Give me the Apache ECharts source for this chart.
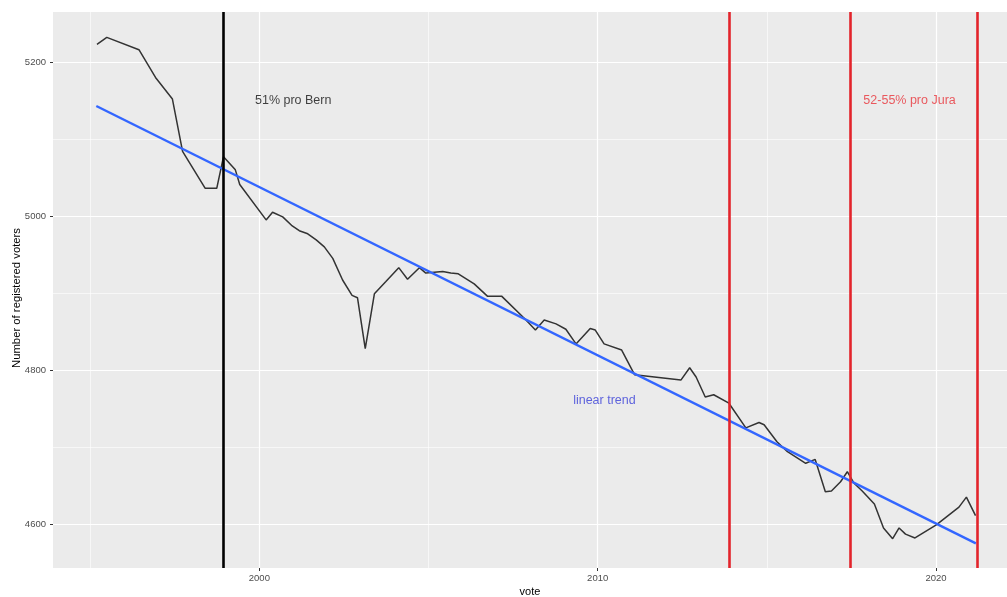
<!DOCTYPE html>
<html>
<head>
<meta charset="utf-8">
<script src="https://cdn.jsdelivr.net/npm/echarts@6/dist/echarts.min.js"></script>
<style>
  html, body { margin: 0; padding: 0; background: #ffffff; }
  #chart { width: 1007px; height: 597px; }
</style>
</head>
<body>
<div id="chart"></div>
<script>
// Registered voters at each vote date (decimal year)
const voteYears = [
  1995.20, 1995.49, 1996.44, 1996.93, 1997.43, 1997.73, 1998.40, 1998.74, 1998.94, 1999.29,
  1999.42, 2000.20, 2000.39, 2000.69, 2000.95, 2001.18, 2001.43, 2001.68, 2001.92, 2002.17,
  2002.46, 2002.74, 2002.90, 2003.13, 2003.40, 2003.74, 2004.12, 2004.38, 2004.73, 2004.92,
  2005.42, 2005.66, 2005.88, 2006.35, 2006.74, 2007.16, 2007.86, 2008.16, 2008.42, 2008.77,
  2009.06, 2009.36, 2009.78, 2009.93, 2010.19, 2010.71, 2011.09, 2012.46, 2012.72, 2012.91,
  2013.18, 2013.43, 2013.88, 2014.38, 2014.77, 2014.92, 2015.30, 2015.61, 2016.15, 2016.43,
  2016.73, 2016.91, 2017.18, 2017.38, 2017.58, 2017.82, 2018.18, 2018.45, 2018.72, 2018.91,
  2019.10, 2019.38, 2020.01, 2020.68, 2020.90, 2021.17
];
const registeredVoters = [
  5223, 5232, 5216, 5180, 5152, 5084, 5036, 5036, 5077, 5060,
  5041, 4995, 5005, 4999, 4988, 4981, 4977, 4969, 4960, 4945,
  4917, 4897, 4894, 4828, 4899, 4915, 4933, 4918, 4933, 4926,
  4928, 4926, 4925, 4912, 4896, 4896, 4866, 4852, 4865, 4860,
  4853, 4834, 4854, 4852, 4834, 4826, 4794, 4787, 4803, 4791,
  4765, 4768, 4757, 4725, 4732, 4729, 4707, 4694, 4679, 4684,
  4642, 4643, 4655, 4668, 4653, 4643, 4626, 4595, 4581, 4595,
  4587, 4582, 4599, 4622, 4635, 4611
];

// Fitted linear trend, first and last vote
const trendYears = [1995.18, 2021.18];
const trendValues = [5143, 4575];

// Votes on the canton question
const bernVotes = [1998.92];
const juraVotes = [2013.88, 2017.46, 2021.21];

// Axis ticks and grid
const xTicks = [2000, 2010, 2020];
const xMinor = [1995, 2005, 2015];
const yTicks = [4600, 4800, 5000, 5200];
const yMinor = [4700, 4900, 5100];
const xRange = [1993.9, 2022.1];
const yRange = [4543, 5265];

// Annotations: [year, value, text]
const bernNote = [2001.0, 5150, '51% pro Bern'];
const juraNote = [2019.22, 5150, '52-55% pro Jura'];
const trendNote = [2010.2, 4760, 'linear trend'];

const FONT = '"Liberation Sans", Arial, sans-serif';

const gridLines = []
  .concat(xMinor.map(v => ({ xAxis: v, lineStyle: { width: 0.6 } })))
  .concat(yMinor.map(v => ({ yAxis: v, lineStyle: { width: 0.6 } })))
  .concat(xTicks.map(v => ({ xAxis: v, lineStyle: { width: 1.2 } })))
  .concat(yTicks.map(v => ({ yAxis: v, lineStyle: { width: 1.2 } })));

function vLines(years, color) {
  return years.map(v => ({ xAxis: v, lineStyle: { color: color, width: 2.6, type: 'solid' } }));
}

function note(n, color) {
  return {
    type: 'scatter',
    symbolSize: 0,
    silent: true,
    z: 6,
    data: [[n[0], n[1]]],
    label: {
      show: true,
      position: 'inside',
      formatter: n[2],
      color: color,
      fontSize: 12.5,
      fontFamily: FONT
    }
  };
}

const plain = v => String(Math.round(v));

const chart = echarts.init(document.getElementById('chart'), null, { renderer: 'canvas' });

chart.setOption({
  animation: false,
  backgroundColor: '#ffffff',
  grid: {
    left: 53, right: 0, top: 12, bottom: 29,
    containLabel: false,
    outerBoundsMode: 'none',
    show: true, backgroundColor: '#ebebeb', borderWidth: 0
  },
  xAxis: {
    type: 'value',
    min: xRange[0], max: xRange[1],
    name: 'vote',
    nameLocation: 'middle',
    nameGap: 18,
    nameMoveOverlap: false,
    nameTextStyle: { color: '#000000', fontSize: 11, fontFamily: FONT },
    axisLine: { show: false },
    splitLine: { show: false },
    axisTick: { show: true, length: 3, customValues: xTicks, lineStyle: { color: '#333333', width: 1 } },
    axisLabel: { customValues: xTicks, formatter: plain, margin: 5, color: '#4d4d4d', fontSize: 9.5, fontFamily: FONT }
  },
  yAxis: {
    type: 'value',
    min: yRange[0], max: yRange[1],
    name: 'Number of registered voters',
    nameLocation: 'middle',
    nameGap: 31,
    nameMoveOverlap: false,
    nameTextStyle: { color: '#000000', fontSize: 11.3, fontFamily: FONT, padding: [0, 16, 0, 0] },
    axisLine: { show: false },
    splitLine: { show: false },
    axisTick: { show: true, length: 3, customValues: yTicks, lineStyle: { color: '#333333', width: 1 } },
    axisLabel: { customValues: yTicks, formatter: plain, margin: 7, color: '#4d4d4d', fontSize: 9.5, fontFamily: FONT }
  },
  series: [
    {
      // panel grid lines
      type: 'line',
      data: [],
      silent: true,
      z: 1,
      markLine: {
        z: 1,
        silent: true,
        symbol: ['none', 'none'],
        label: { show: false },
        lineStyle: { color: '#ffffff', type: 'solid' },
        data: gridLines
      }
    },
    {
      type: 'line',
      data: voteYears.map((y, i) => [y, registeredVoters[i]]),
      showSymbol: false,
      symbol: 'none',
      lineStyle: { color: '#333333', width: 1.5 },
      z: 3
    },
    {
      type: 'line',
      data: trendYears.map((y, i) => [y, trendValues[i]]),
      showSymbol: false,
      symbol: 'none',
      lineStyle: { color: '#3366ff', width: 2.4 },
      z: 4
    },
    {
      // vote dates
      type: 'line',
      data: [],
      silent: true,
      z: 5,
      markLine: {
        z: 5,
        silent: true,
        symbol: ['none', 'none'],
        label: { show: false },
        data: vLines(bernVotes, '#000000').concat(vLines(juraVotes, '#e3242b'))
      }
    },
    note(bernNote, '#111111'),
    note(juraNote, '#e8333a'),
    note(trendNote, '#3a40d8')
  ]
});
</script>
</body>
</html>
